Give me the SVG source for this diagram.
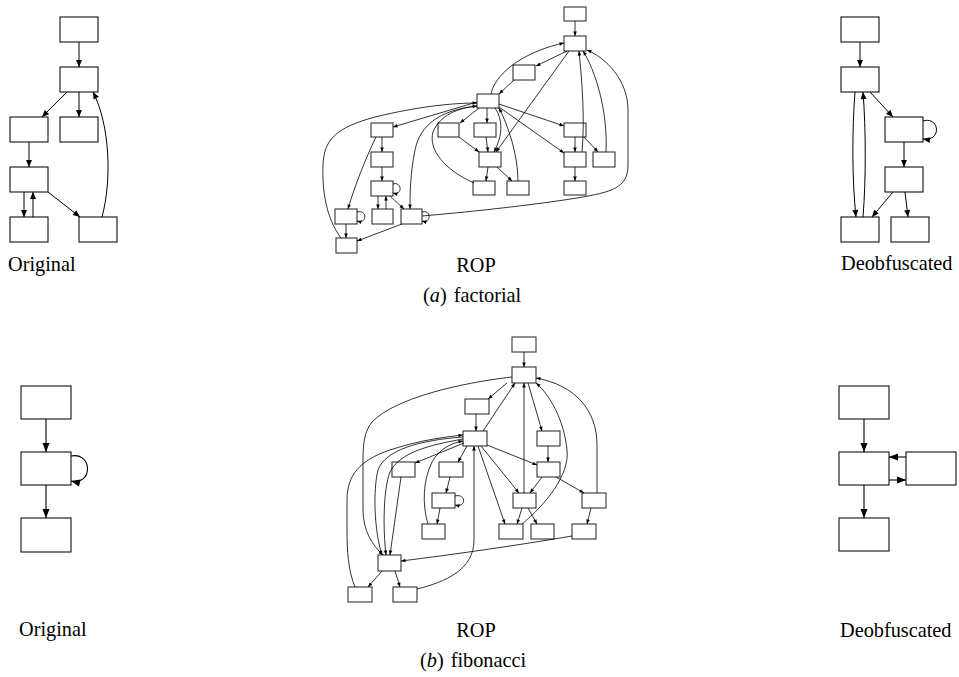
<svg xmlns="http://www.w3.org/2000/svg" width="959" height="677" viewBox="0 0 959 677">
<defs>
<style>
.bx{fill:#fff;stroke:#111;stroke-width:1.1}
.rb{fill:#fff;stroke:#333;stroke-width:1.1}
.e{fill:none;stroke:#000;stroke-width:1;marker-end:url(#aM)}
.eb{fill:none;stroke:#000;stroke-width:1.1;marker-end:url(#aL)}
.r{fill:none;stroke:#000;stroke-width:0.8;marker-end:url(#aS)}
.t{font-family:"Liberation Serif","Times New Roman",serif;font-size:20.3px;fill:#000}
</style>
<marker id="aM" markerUnits="userSpaceOnUse" markerWidth="8" markerHeight="6" refX="7" refY="3" orient="auto" overflow="visible"><path d="M0,0 L7,3 L0,6 z" fill="#000"/></marker>
<marker id="aL" markerUnits="userSpaceOnUse" markerWidth="10" markerHeight="7" refX="9" refY="3.5" orient="auto" overflow="visible"><path d="M0,0 L9,3.5 L0,7 z" fill="#000"/></marker>
<marker id="aS" markerUnits="userSpaceOnUse" markerWidth="5" markerHeight="4" refX="4.5" refY="1.8" orient="auto" overflow="visible"><path d="M0,0 L4.5,1.8 L0,3.6 z" fill="#000"/></marker>
</defs>
<rect width="959" height="677" fill="#fff"/>

<!-- ===== (a) factorial: Original ===== -->
<g id="fo-nodes">
<g id="fo1"><rect class="bx" x="60" y="17" width="38" height="25"/></g>
<g id="fo2"><rect class="bx" x="60" y="67" width="38" height="25"/></g>
<g id="fo3"><rect class="bx" x="10" y="117" width="38" height="25"/></g>
<g id="fo4"><rect class="bx" x="60" y="117" width="38" height="25"/></g>
<g id="fo5"><rect class="bx" x="10" y="167" width="38" height="25"/></g>
<g id="fo6"><rect class="bx" x="10" y="217" width="38" height="25"/></g>
<g id="fo7"><rect class="bx" x="79" y="217" width="38" height="25"/></g>
</g>
<g id="fo-edges">
<path class="e" d="M79,42 L79,67"/>
<path class="e" d="M67,92 L42,117"/>
<path class="e" d="M79,92 L79,117"/>
<path class="e" d="M29,142 L29,167"/>
<path class="e" d="M24,192 L24,217"/>
<path class="e" d="M33,217 L33,192"/>
<path class="e" d="M48,192 L80,217"/>
<path class="e" d="M102,217 C112,180 110,125 93,92"/>
</g>

<!-- ===== (a) factorial: Deobfuscated ===== -->
<g id="fd-nodes">
<g id="fd1"><rect class="bx" x="841" y="17" width="38" height="25"/></g>
<g id="fd2"><rect class="bx" x="841" y="67" width="38" height="25"/></g>
<g id="fd3"><rect class="bx" x="885" y="117" width="38" height="25"/></g>
<g id="fd4"><rect class="bx" x="885" y="167" width="38" height="25"/></g>
<g id="fd5"><rect class="bx" x="841" y="217" width="38" height="25"/></g>
<g id="fd6"><rect class="bx" x="891" y="217" width="38" height="25"/></g>
</g>
<g id="fd-edges">
<path class="e" d="M860,42 L860,67"/>
<path class="e" d="M855,92 C852,130 852,180 856,217"/>
<path class="e" d="M863,217 C866,180 866,130 863,92"/>
<path class="e" d="M870,92 L893,117"/>
<path class="e" d="M923,121 C940,116 942,142 923,139"/>
<path class="e" d="M904,142 L904,167"/>
<path class="e" d="M893,192 L872,217"/>
<path class="e" d="M905,192 L908,217"/>
</g>

<!-- ===== (a) factorial: ROP ===== -->
<g id="fr-nodes">
<g id="fr0"><rect class="rb" x="564" y="7" width="22" height="14"/></g>
<g id="frT"><rect class="rb" x="564" y="36" width="22" height="15"/></g>
<g id="frL1"><rect class="rb" x="513" y="65" width="22" height="15"/></g>
<g id="frH"><rect class="rb" x="477" y="94" width="22" height="14"/></g>
<g id="frU1"><rect class="rb" x="474" y="123" width="22" height="14"/></g>
<g id="frLL"><rect class="rb" x="438" y="123" width="21" height="14"/></g>
<g id="frM"><rect class="rb" x="479" y="152" width="22" height="15"/></g>
<g id="frBL"><rect class="rb" x="473" y="181" width="22" height="14"/></g>
<g id="frBR"><rect class="rb" x="507" y="181" width="22" height="14"/></g>
<g id="frR1"><rect class="rb" x="564" y="123" width="22" height="14"/></g>
<g id="frR2"><rect class="rb" x="564" y="152" width="22" height="15"/></g>
<g id="frR3"><rect class="rb" x="593" y="152" width="22" height="15"/></g>
<g id="frR4"><rect class="rb" x="564" y="181" width="22" height="14"/></g>
<g id="frP1"><rect class="rb" x="371" y="123" width="22" height="14"/></g>
<g id="frP2"><rect class="rb" x="371" y="152" width="22" height="15"/></g>
<g id="frP3"><rect class="rb" x="371" y="181" width="22" height="15"/></g>
<g id="frP4"><rect class="rb" x="335" y="209" width="22" height="15"/></g>
<g id="frP5"><rect class="rb" x="372" y="209" width="21" height="15"/></g>
<g id="frP6"><rect class="rb" x="401" y="209" width="21" height="15"/></g>
<g id="frP7"><rect class="rb" x="336" y="238" width="21" height="15"/></g>
</g>
<g id="fr-edges">
<path class="r" d="M575,21 L575,36"/>
<path class="r" d="M567,51 L536,66"/>
<path class="r" d="M514,80 L499,94"/>
<path class="r" d="M491,94 C496,70 530,50 564,43"/>
<path class="r" d="M569,51 L496,152"/>
<path class="r" d="M582,152 C585,120 582,80 579,51"/>
<path class="r" d="M606,152 C608,110 595,70 583,51"/>
<path class="r" d="M422,216 C480,211 540,204 577,198 C612,192 628,188 628,165 L628,110 C628,80 606,58 587,50"/>
<path class="r" d="M477,102 L393,127"/>
<path class="r" d="M341,238 C326,218 322,190 323,165 C324,140 335,128 375,117 C420,106 455,103 477,103"/>
<path class="r" d="M477,106 C440,110 420,125 415,150 C410,175 410,195 410,209"/>
<path class="r" d="M474,183 C445,170 428,150 433,132 C440,115 458,108 477,106"/>
<path class="r" d="M479,108 L460,123"/>
<path class="r" d="M487,108 L487,123"/>
<path class="r" d="M495,108 C503,120 503,135 494,152"/>
<path class="r" d="M518,181 C518,155 508,125 499,108"/>
<path class="r" d="M459,137 L479,152"/>
<path class="r" d="M486,137 L488,152"/>
<path class="r" d="M488,167 L486,181"/>
<path class="r" d="M497,167 L512,181"/>
<path class="r" d="M499,104 L564,126"/>
<path class="r" d="M499,107 L564,153"/>
<path class="r" d="M575,137 L575,152"/>
<path class="r" d="M584,137 L598,152"/>
<path class="r" d="M575,167 L575,181"/>
<path class="r" d="M382,137 L382,152"/>
<path class="r" d="M382,167 L382,181"/>
<path class="r" d="M393,184 C402,181 403,196 393,193"/>
<path class="r" d="M378,196 L378,209"/>
<path class="r" d="M386,209 L386,196"/>
<path class="r" d="M390,196 L404,209"/>
<path class="r" d="M376,137 C365,160 355,185 348,209"/>
<path class="r" d="M357,212 C367,209 368,224 357,221"/>
<path class="r" d="M346,224 L346,238"/>
<path class="r" d="M402,224 L357,241"/>
<path class="r" d="M422,212 C431,209 432,224 422,221"/>
</g>

<!-- ===== (b) fibonacci: Original ===== -->
<g id="bo-nodes">
<g id="bo1"><rect class="bx" x="21" y="386" width="50" height="33"/></g>
<g id="bo2"><rect class="bx" x="21" y="452" width="50" height="33"/></g>
<g id="bo3"><rect class="bx" x="21" y="518" width="50" height="34"/></g>
</g>
<g id="bo-edges">
<path class="eb" d="M46,419 L46,452"/>
<path class="eb" d="M46,485 L46,518"/>
<path class="eb" d="M71,456 C93,452 93,486 71,481"/>
</g>

<!-- ===== (b) fibonacci: Deobfuscated ===== -->
<g id="bd-nodes">
<g id="bd1"><rect class="bx" x="839" y="386" width="50" height="33"/></g>
<g id="bd2"><rect class="bx" x="839" y="452" width="50" height="33"/></g>
<g id="bd3"><rect class="bx" x="906" y="452" width="50" height="33"/></g>
<g id="bd4"><rect class="bx" x="839" y="518" width="50" height="33"/></g>
</g>
<g id="bd-edges">
<path class="eb" d="M864,419 L864,452"/>
<path class="eb" d="M864,485 L864,518"/>
<path class="eb" d="M906,457 L889,457"/>
<path class="eb" d="M889,480 L906,480"/>
</g>

<!-- ===== (b) fibonacci: ROP ===== -->
<g id="br-nodes">
<g id="br0"><rect class="rb" x="512" y="337" width="24" height="15"/></g>
<g id="brT"><rect class="rb" x="512" y="367" width="24" height="16"/></g>
<g id="brA1"><rect class="rb" x="465" y="399" width="24" height="15"/></g>
<g id="brH"><rect class="rb" x="463" y="431" width="24" height="15"/></g>
<g id="brB1"><rect class="rb" x="537" y="431" width="23" height="15"/></g>
<g id="brQ1"><rect class="rb" x="392" y="462" width="23" height="15"/></g>
<g id="brQ2"><rect class="rb" x="439" y="462" width="24" height="15"/></g>
<g id="brB2"><rect class="rb" x="537" y="462" width="23" height="15"/></g>
<g id="brQ3"><rect class="rb" x="432" y="493" width="23" height="15"/></g>
<g id="brC1"><rect class="rb" x="513" y="493" width="23" height="15"/></g>
<g id="brC2"><rect class="rb" x="582" y="493" width="24" height="15"/></g>
<g id="brD1"><rect class="rb" x="422" y="524" width="23" height="15"/></g>
<g id="brD2"><rect class="rb" x="499" y="524" width="24" height="15"/></g>
<g id="brD3"><rect class="rb" x="531" y="524" width="23" height="15"/></g>
<g id="brD4"><rect class="rb" x="572" y="524" width="24" height="15"/></g>
<g id="brE"><rect class="rb" x="378" y="555" width="23" height="16"/></g>
<g id="brF1"><rect class="rb" x="348" y="587" width="24" height="15"/></g>
<g id="brF2"><rect class="rb" x="393" y="587" width="24" height="15"/></g>
</g>
<g id="br-edges">
<path class="r" d="M524,352 L524,367"/>
<path class="r" d="M507,383 L488,399"/>
<path class="r" d="M476,414 L476,431"/>
<path class="r" d="M483,431 L515,383"/>
<path class="r" d="M512,377 C460,383 395,398 372,422 C364,432 363,445 363,460 L363,510 C363,530 372,545 383,555"/>
<path class="r" d="M524,493 L524,383"/>
<path class="r" d="M528,383 L542,431"/>
<path class="r" d="M522,524 C545,505 570,475 567,450 C564,420 550,395 536,383"/>
<path class="r" d="M597,493 L597,445 C597,410 575,385 536,378"/>
<path class="r" d="M548,446 L548,462"/>
<path class="r" d="M487,445 L537,465"/>
<path class="r" d="M481,446 L519,493"/>
<path class="r" d="M478,446 L505,524"/>
<path class="r" d="M542,477 L530,493"/>
<path class="r" d="M556,477 L584,493"/>
<path class="r" d="M522,508 L517,524"/>
<path class="r" d="M528,508 L537,524"/>
<path class="r" d="M591,508 L587,524"/>
<path class="r" d="M572,536 C520,545 450,555 401,561"/>
<path class="r" d="M464,443 L415,463"/>
<path class="r" d="M467,446 L458,462"/>
<path class="r" d="M450,477 L446,493"/>
<path class="r" d="M455,496 C466,493 467,508 455,505"/>
<path class="r" d="M440,508 L437,524"/>
<path class="r" d="M428,524 C422,505 423,480 432,462 C440,448 452,443 463,441"/>
<path class="r" d="M401,477 L390,555"/>
<path class="r" d="M463,437 C420,440 385,450 378,470 C373,490 374,530 382,555"/>
<path class="r" d="M463,439 C430,445 400,452 390,472 C383,490 383,530 386,555"/>
<path class="r" d="M382,571 L368,587"/>
<path class="r" d="M395,571 L400,587"/>
<path class="r" d="M417,589 C445,582 474,570 474,540 L474,446"/>
<path class="r" d="M355,587 C348,570 347,550 347,530 L347,500 C347,475 360,460 390,450 C420,440 445,437 463,435"/>
</g>

<!-- ===== Captions ===== -->
<g id="captions">
<text class="t" x="8" y="271">Original</text>
<text class="t" x="476" y="272" text-anchor="middle">ROP</text>
<text class="t" x="841" y="270">Deobfuscated</text>
<text class="t" x="423" y="302">(<tspan font-style="italic">a</tspan>)<tspan dx="7">factorial</tspan></text>
<text class="t" x="19" y="636">Original</text>
<text class="t" x="476" y="637" text-anchor="middle">ROP</text>
<text class="t" x="840" y="637">Deobfuscated</text>
<text class="t" x="420" y="667">(<tspan font-style="italic">b</tspan>)<tspan dx="7">fibonacci</tspan></text>
</g>
</svg>
